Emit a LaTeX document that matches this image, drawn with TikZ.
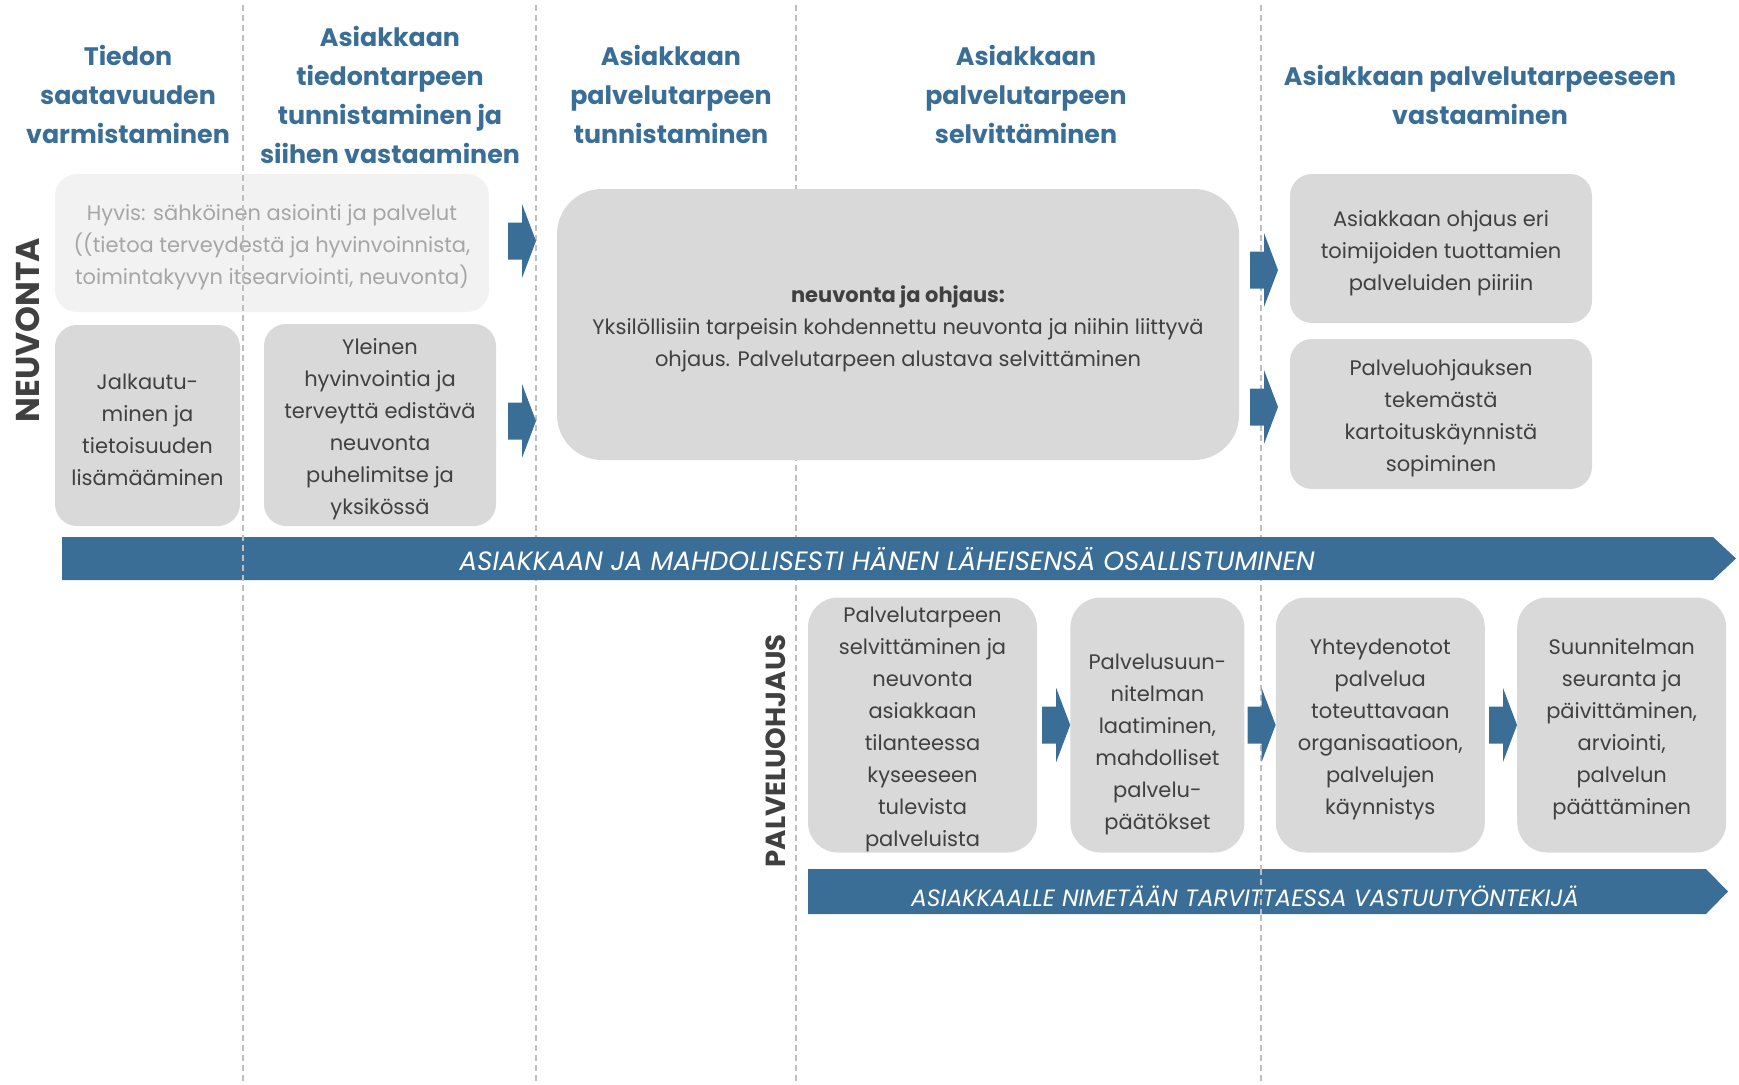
\documentclass[tikz,border=0pt]{standalone}
\usepackage{fontspec}
\setmainfont{Poppins}
\usetikzlibrary{positioning}
\definecolor{ohjblue}{RGB}{58,110,150}
\definecolor{boxgray}{RGB}{217,217,217}
\definecolor{palegray}{RGB}{242,242,242}
\definecolor{hyvisgray}{RGB}{166,166,166}
\definecolor{txtgray}{RGB}{64,64,64}
\definecolor{linegray}{RGB}{191,191,191}
\tikzset{
  phase/.style={text=ohjblue, font=\bfseries\fontsize{25.3}{39}\selectfont, align=center},
  stepbox/.style={fill=boxgray, rounded corners=22pt, inner sep=0pt},
  flowbox/.style={stepbox, rounded corners=30pt, minimum height=255pt},
  boxtext/.style={text=txtgray, align=center, font=\fontsize{21}{32}\selectfont,
    inner sep=0pt, yshift=-4.5pt},
  sidelabel/.style={text=txtgray, font=\bfseries\fontsize{33}{33}\selectfont, rotate=90},
  bannertext/.style={text=white, font=\itshape\fontsize{26.5}{30}\selectfont},
  phaseline/.style={linegray, line width=1.5pt, dash pattern=on 6pt off 4pt},
  blockarrow/.pic={\fill[ohjblue] (-14,-18.5) -- (0,-18.5) -- (0,-37) -- (14,0)
    -- (0,37) -- (0,18.5) -- (-14,18.5) -- cycle;}
}
\begin{document}
\begin{tikzpicture}[x=1pt, y=-1pt]
\useasboundingbox (0,0) rectangle (1739,1084);
% phase borders behind the boxes
\foreach \x in {536,796,1261}
  \draw[phaseline] (\x,5) -- (\x,1084);

% phase titles
\node[phase] (ph1) at (128,94.5) {Tiedon\\saatavuuden\\varmistaminen};
\node[phase] (ph2) at (390,94.5) {Asiakkaan\\tiedontarpeen\\tunnistaminen ja\\siihen vastaaminen};
\node[phase] (ph3) at (671,94.5) {Asiakkaan\\palvelutarpeen\\tunnistaminen};
\node[phase] (ph4) at (1026,94.5) {Asiakkaan\\palvelutarpeen\\selvittäminen};
\node[phase] (ph5) at (1480,94.5) {Asiakkaan palvelutarpeeseen\\vastaaminen};

% neuvonta
\node[sidelabel] (neuv) at (28,330) {NEUVONTA};
\node[stepbox, fill=palegray, minimum width=434pt, minimum height=138pt] (hyvis) at (272,243) {};
\node[stepbox, minimum width=185pt, minimum height=201pt] (jalk) at (147.5,425.5) {};
\node[stepbox, minimum width=232pt, minimum height=202pt] (yleinen) at (380,425) {};
\node[stepbox, rounded corners=45pt, minimum width=682pt, minimum height=271pt] (ohjaus) at (898,324.5) {};
\node[stepbox, minimum width=302pt, minimum height=149pt] (eri) at (1441,248.5) {};
\node[stepbox, minimum width=302pt, minimum height=150pt] (kartoitus) at (1441,414) {};

\node[boxtext, text=hyvisgray] (hyvistxt) at (hyvis)
  {Hyvis: sähköinen asiointi ja palvelut\\((tietoa terveydestä ja hyvinvoinnista,\\toimintakyvyn itsearviointi, neuvonta)};
\node[boxtext] (jalktxt) at (jalk) {Jalkautu-\\minen ja\\tietoisuuden\\lisämääminen};
\node[boxtext] (yleinentxt) at (yleinen)
  {Yleinen\\hyvinvointia ja\\terveyttä edistävä\\neuvonta\\puhelimitse ja\\yksikössä};
\node[boxtext] (ohjaustxt) at (ohjaus)
  {{\bfseries neuvonta ja ohjaus:}\\Yksilöllisiin tarpeisin kohdennettu neuvonta ja niihin liittyvä\\ohjaus. Palvelutarpeen alustava selvittäminen};
\node[boxtext] (eritxt) at (eri) {Asiakkaan ohjaus eri\\toimijoiden tuottamien\\palveluiden piiriin};
\node[boxtext] (kartoitustxt) at (kartoitus) {Palveluohjauksen\\tekemästä\\kartoituskäynnistä\\sopiminen};

\pic at (522,241) {blockarrow};
\pic at (522,421) {blockarrow};
\pic at (1264,270) {blockarrow};
\pic at (1264,407) {blockarrow};

% osallistuminen
\fill[ohjblue] (62,537) -- (1713,537) -- (1736,558.5) -- (1713,580) -- (62,580) -- cycle;
\node[bannertext] (osall) at (887,559) {ASIAKKAAN JA MAHDOLLISESTI HÄNEN LÄHEISENSÄ OSALLISTUMINEN};

% palveluohjaus
\node[sidelabel, font=\bfseries\fontsize{27.6}{28}\selectfont] (pohj) at (776,751) {PALVELUOHJAUS};
\node[flowbox, minimum width=229pt] (selv) at (922.5,725) {};
\node[flowbox, minimum width=174pt, right=33pt of selv] (suunn) {};
\node[flowbox, minimum width=209pt, right=31pt of suunn] (yhteys) {};
\node[flowbox, minimum width=209pt, right=32pt of yhteys] (seur) {};

\node[boxtext] (selvtxt) at (selv)
  {Palvelutarpeen\\selvittäminen ja\\neuvonta\\asiakkaan\\tilanteessa\\kyseeseen\\tulevista\\palveluista};
\node[boxtext, yshift=-15pt] (suunntxt) at (suunn)
  {Palvelusuun-\\nitelman\\laatiminen,\\mahdolliset\\palvelu-\\päätökset};
\node[boxtext] (yhteystxt) at (yhteys)
  {Yhteydenotot\\palvelua\\toteuttavaan\\organisaatioon,\\palvelujen\\käynnistys};
\node[boxtext] (seurtxt) at (seur)
  {Suunnitelman\\seuranta ja\\päivittäminen,\\arviointi,\\palvelun\\päättäminen};
\pic at ([xshift=-14pt]suunn.west) {blockarrow};
\pic at ([xshift=-14pt]yhteys.west) {blockarrow};
\pic at ([xshift=-14pt]seur.west) {blockarrow};

\fill[ohjblue] (808,869) -- (1706,869) -- (1728,891.5) -- (1706,914) -- (808,914) -- cycle;
\node[bannertext, font=\itshape\fontsize{23.6}{28}\selectfont] (vastuu) at (1245,896)
  {ASIAKKAALLE NIMETÄÄN TARVITTAESSA VASTUUTYÖNTEKIJÄ};

% these borders run over the boxes
\draw[phaseline] (243,5) -- (243,1084);
\draw[phaseline] (1261,869) -- (1261,914);
\end{tikzpicture}
\end{document}
